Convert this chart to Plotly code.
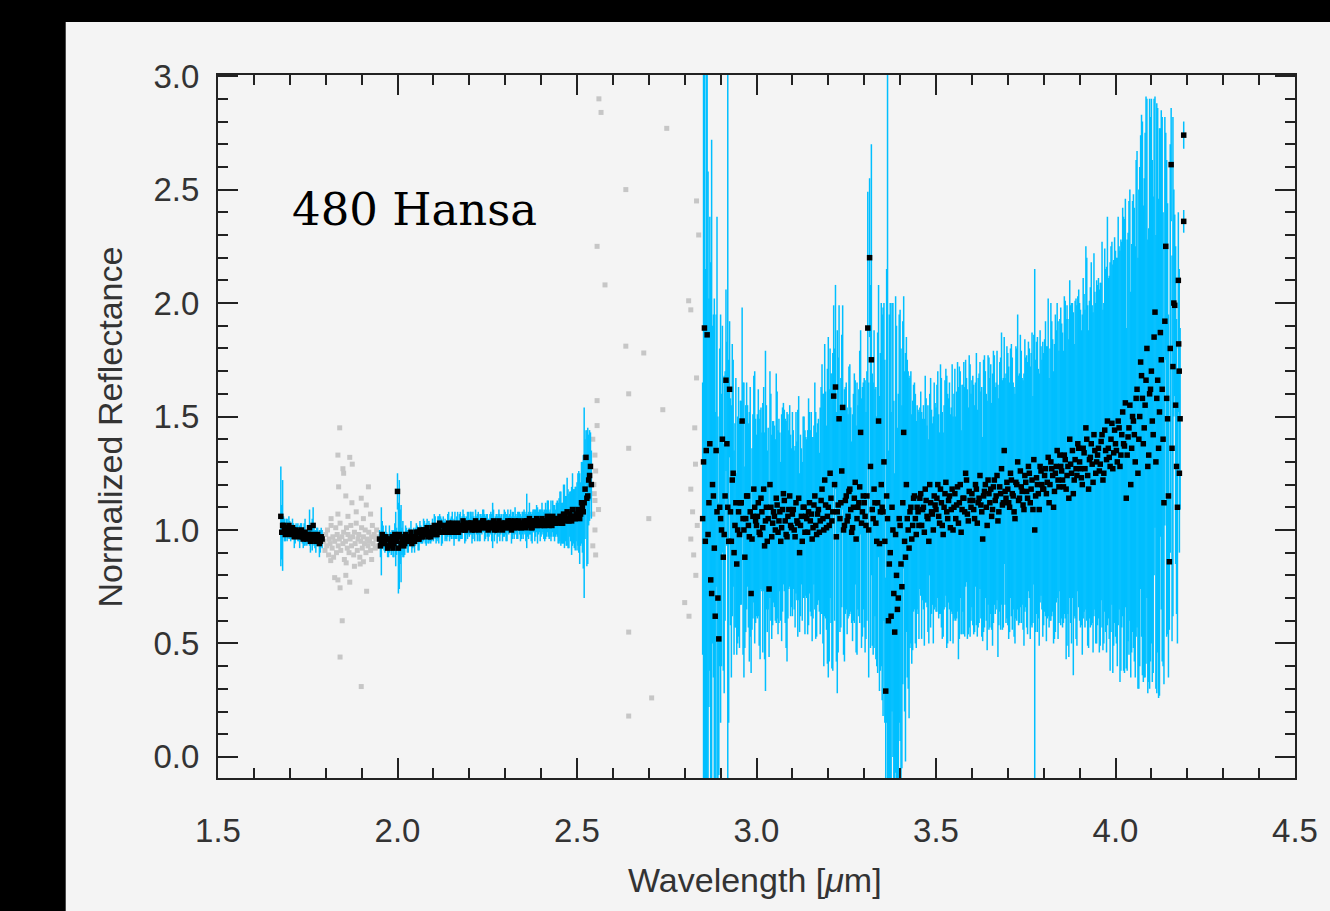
import plotly.graph_objects as go

# ---------------- data ----------------
# K-band, first segment: two interleaved channel sets
k1a_start, k1b_start, k_step = 1.675, 1.6775, 0.005
k1a_refl = [1.06, 1.02, 1.00, 1.01, 0.99, 1.00, 0.99, 1.00, 0.98, 0.99,
            0.98, 0.99, 0.97, 0.98, 0.97, 0.98, 1.01, 0.97, 1.02, 0.96,
            0.97, 0.96, 0.95, 0.96]
k1a_err = [0.22, 0.20, 0.05, 0.04, 0.03, 0.04, 0.03, 0.03, 0.04, 0.03,
           0.03, 0.04, 0.03, 0.05, 0.03, 0.04, 0.08, 0.03, 0.08, 0.04,
           0.04, 0.03, 0.05, 0.04]
k1b_refl = [0.99, 1.02, 0.98, 1.00, 1.02, 0.98, 1.01, 0.97, 1.00, 0.99,
            0.97, 1.00, 0.96, 0.99, 0.96, 0.98, 0.95, 0.98, 0.97, 0.95,
            0.98, 0.94, 0.97]
k1b_err = [0.12, 0.04, 0.03, 0.05, 0.04, 0.03, 0.04, 0.05, 0.03, 0.04,
           0.05, 0.03, 0.04, 0.06, 0.03, 0.04, 0.05, 0.07, 0.04, 0.05,
           0.03, 0.06, 0.04]

# K-band, second segment (1.950 - 2.540 um): two interleaved channel sets
k2a_start, k2b_start = 1.950, 1.9525
k2a_refl = [0.96, 0.95, 0.97, 0.94, 0.96, 0.93, 0.95, 0.97, 0.94, 0.96,
            1.17, 0.98, 0.94, 0.96, 0.94, 0.97, 0.95, 0.96, 0.94, 0.97,
            0.97, 0.99, 0.96, 0.98, 0.97, 1.00, 0.98, 0.97, 0.99, 0.98,
            0.99, 1.01, 0.98, 1.00, 1.02, 0.99, 1.01, 1.00, 1.02, 0.99,
            1.01, 1.00, 1.02, 1.01, 0.99, 1.02, 1.01, 1.03, 1.00, 1.02,
            1.01, 1.03, 1.02, 1.00, 1.02, 1.03, 1.01, 1.02, 1.04, 1.01,
            1.02, 1.01, 1.03, 1.02, 1.00, 1.03, 1.02, 1.01, 1.03, 1.02,
            1.03, 1.01, 1.02, 1.04, 1.02, 1.01, 1.03, 1.02, 1.03, 1.01,
            1.02, 1.03, 1.04, 1.02, 1.03, 1.01, 1.04, 1.03, 1.02, 1.04,
            1.03, 1.04, 1.02, 1.03, 1.05, 1.03, 1.02, 1.04, 1.03, 1.05,
            1.04, 1.05, 1.03, 1.06, 1.04, 1.05, 1.07, 1.04, 1.06, 1.05,
            1.06, 1.08, 1.07, 1.10, 1.12, 1.32, 1.15, 1.24, 1.20]
k2a_err = [0.04, 0.15, 0.05, 0.04, 0.03, 0.05, 0.04, 0.03, 0.06, 0.12,
           0.08, 0.24, 0.17, 0.08, 0.05, 0.04, 0.05, 0.03, 0.04, 0.04,
           0.04, 0.03, 0.05, 0.04, 0.03, 0.04, 0.05, 0.03, 0.04, 0.03,
           0.04, 0.05, 0.03, 0.06, 0.04, 0.05, 0.03, 0.04, 0.05, 0.04,
           0.05, 0.04, 0.06, 0.05, 0.04, 0.06, 0.05, 0.04, 0.05, 0.06,
           0.04, 0.05, 0.06, 0.05, 0.04, 0.05, 0.06, 0.04, 0.05, 0.05,
           0.05, 0.04, 0.05, 0.10, 0.05, 0.04, 0.05, 0.06, 0.04, 0.05,
           0.05, 0.06, 0.04, 0.05, 0.06, 0.05, 0.04, 0.06, 0.05, 0.05,
           0.06, 0.05, 0.12, 0.06, 0.05, 0.07, 0.05, 0.06, 0.08, 0.05,
           0.06, 0.05, 0.07, 0.06, 0.08, 0.06, 0.05, 0.07, 0.06, 0.08,
           0.10, 0.12, 0.09, 0.14, 0.11, 0.13, 0.10, 0.15, 0.12, 0.14,
           0.15, 0.18, 0.14, 0.20, 0.42, 0.12, 0.30, 0.20, 0.15]
k2b_refl = [0.93, 0.98, 0.95, 0.97, 0.92, 0.96, 0.94, 0.92, 0.98, 0.95,
            0.92, 0.97, 0.95, 0.93, 0.98, 0.95, 0.97, 0.99, 0.96, 0.95,
            0.99, 0.96, 1.00, 0.97, 1.00, 0.98, 1.01, 0.99, 0.97, 1.01,
            1.02, 0.98, 1.01, 1.03, 0.99, 1.02, 1.00, 0.99, 1.03, 1.01,
            1.03, 0.99, 1.00, 1.03, 1.01, 1.00, 1.04, 1.00, 1.02, 1.03,
            1.03, 1.00, 1.02, 1.04, 1.01, 1.00, 1.03, 1.04, 1.01, 1.03,
            1.00, 1.03, 1.01, 1.04, 1.02, 1.00, 1.04, 1.02, 1.00, 1.03,
            1.01, 1.04, 1.03, 1.00, 1.03, 1.04, 1.01, 1.04, 1.01, 1.03,
            1.04, 1.01, 1.02, 1.05, 1.01, 1.04, 1.02, 1.05, 1.03, 1.02,
            1.05, 1.02, 1.04, 1.06, 1.02, 1.04, 1.06, 1.03, 1.05, 1.03,
            1.06, 1.03, 1.07, 1.05, 1.08, 1.04, 1.06, 1.09, 1.05, 1.07,
            1.09, 1.05, 1.12, 1.08, 1.18, 1.14, 1.22, 1.28]
k2b_err = [0.05, 0.06, 0.04, 0.05, 0.04, 0.06, 0.05, 0.04, 0.05, 0.06,
           0.20, 0.12, 0.06, 0.05, 0.04, 0.05, 0.04, 0.05, 0.04, 0.05,
           0.04, 0.05, 0.04, 0.03, 0.05, 0.04, 0.04, 0.05, 0.03, 0.04,
           0.05, 0.04, 0.05, 0.04, 0.06, 0.04, 0.05, 0.04, 0.05, 0.04,
           0.05, 0.06, 0.04, 0.05, 0.06, 0.04, 0.05, 0.06, 0.04, 0.05,
           0.05, 0.06, 0.04, 0.05, 0.06, 0.05, 0.04, 0.05, 0.06, 0.04,
           0.05, 0.04, 0.06, 0.05, 0.04, 0.06, 0.05, 0.04, 0.05, 0.06,
           0.06, 0.05, 0.04, 0.06, 0.05, 0.06, 0.05, 0.04, 0.06, 0.05,
           0.05, 0.06, 0.05, 0.07, 0.06, 0.05, 0.07, 0.06, 0.05, 0.07,
           0.07, 0.06, 0.08, 0.07, 0.06, 0.09, 0.07, 0.08, 0.07, 0.09,
           0.11, 0.09, 0.13, 0.10, 0.15, 0.12, 0.11, 0.16, 0.13, 0.12,
           0.16, 0.20, 0.18, 0.25, 0.22, 0.30, 0.20, 0.15]

# L-band (2.850 - 4.180 um): two interleaved channel sets
la_start, lb_start, l_step = 2.850, 2.8525, 0.005
la_refl = [1.05, 1.89, 1.35, 0.98, 1.38, 0.72, 1.15, 0.62, 1.08, 0.52,
           1.05, 1.40, 0.98, 1.66, 1.10, 1.62, 0.95, 1.25, 1.02, 0.85,
           1.08, 1.12, 1.48, 1.00, 1.05, 1.15, 0.97, 0.72, 1.06, 1.10,
           1.02, 1.12, 0.98, 1.08, 1.18, 1.04, 0.95, 0.74, 1.10, 1.03,
           1.06, 1.14, 0.99, 1.08, 1.01, 1.16, 1.04, 0.97, 1.09, 1.02,
           1.07, 1.00, 1.12, 1.03, 0.90, 1.06, 1.10, 0.99, 1.05, 1.08,
           1.04, 0.96, 1.11, 1.02, 1.07, 0.99, 1.13, 1.05, 1.22, 1.01,
           1.10, 1.25, 1.04, 1.59, 1.63, 1.08, 1.49, 1.12, 1.54, 1.02,
           1.15, 1.06, 1.18, 0.99, 1.10, 1.21, 1.05, 1.12, 1.43, 1.08,
           1.12, 1.02, 1.89, 2.20, 1.75, 1.05, 1.12, 0.95, 1.48, 1.08,
           1.10, 1.30, 0.29, 1.05, 0.85, 0.62, 1.00, 0.55, 0.80, 0.70,
           1.02, 0.75, 1.43, 0.88, 1.05, 0.92, 1.10, 1.02, 1.15, 0.98,
           1.08, 1.14, 1.02, 1.10, 1.18, 1.06, 0.95, 1.12, 1.07, 1.15,
           1.09, 1.20, 1.03, 1.12, 0.98, 1.16, 1.08, 1.13, 1.01, 1.18,
           1.10, 1.05, 1.19, 1.12, 0.99, 1.14, 1.08, 1.22, 1.04, 1.13,
           1.16, 1.09, 1.20, 1.03, 1.14, 1.11, 0.96, 1.17, 1.10, 1.22,
           1.12, 1.06, 1.19, 1.13, 1.24, 1.08, 1.16, 1.11, 1.35, 1.14,
           1.18, 1.10, 1.22, 1.15, 1.05, 1.20, 1.13, 1.26, 1.17, 1.09,
           1.21, 1.14, 1.25, 1.18, 1.09, 1.00, 1.23, 1.16, 1.28, 1.20,
           1.18, 1.27, 1.21, 1.12, 1.30, 1.24, 1.17, 1.28, 1.22, 1.33,
           1.26, 1.19, 1.31, 1.24, 1.14, 1.29, 1.35, 1.22, 1.27, 1.38,
           1.30, 1.23, 1.36, 1.27, 1.40, 1.18, 1.32, 1.29, 1.42, 1.25,
           1.33, 1.26, 1.39, 1.22, 1.44, 1.31, 1.36, 1.28, 1.47, 1.34,
           1.38, 1.30, 1.45, 1.33, 1.52, 1.37, 1.14, 1.41, 1.55, 1.36,
           1.48, 1.30, 1.62, 1.40, 1.74, 1.58, 1.45, 1.66, 1.28, 1.60,
           1.70, 1.42, 1.96, 1.58, 1.36, 1.87, 1.62, 1.12, 2.25, 1.49,
           0.86, 2.61, 1.72, 1.99, 1.28, 2.10, 1.49]
la_err = [0.60, 2.50, 2.40, 1.60, 1.00, 2.00, 0.80, 0.90, 1.30, 0.60,
          0.90, 0.50, 0.70, 0.40, 2.60, 0.30, 0.60, 0.50, 0.45, 0.40,
          0.55, 0.45, 0.50, 0.65, 0.50, 0.40, 0.55, 0.35, 0.45, 0.60,
          0.40, 0.50, 0.55, 0.35, 0.45, 0.75, 0.40, 0.30, 0.50, 0.45,
          0.40, 0.55, 0.45, 0.35, 0.50, 0.40, 0.45, 0.55, 0.35, 0.40,
          0.45, 0.35, 0.40, 0.50, 0.35, 0.30, 0.40, 0.45, 0.35, 0.50,
          0.40, 0.45, 0.35, 0.50, 0.40, 0.35, 0.50, 0.55, 0.60, 0.45,
          0.75, 0.55, 0.65, 0.40, 0.45, 0.80, 0.50, 0.55, 0.45, 0.60,
          0.50, 0.45, 0.55, 0.40, 0.50, 0.45, 0.60, 0.50, 0.45, 0.55,
          0.55, 0.50, 0.60, 0.35, 0.95, 0.60, 0.50, 0.55, 0.60, 0.70,
          0.85, 0.70, 0.50, 2.40, 1.10, 0.90, 1.00, 0.70, 1.10, 0.90,
          0.95, 0.80, 0.60, 0.90, 0.70, 0.75, 0.60, 0.55, 0.50, 0.50,
          0.45, 0.40, 0.50, 0.45, 0.50, 0.40, 0.45, 0.55, 0.40, 0.50,
          0.45, 0.50, 0.40, 0.55, 0.45, 0.50, 0.60, 0.45, 0.50, 0.55,
          0.50, 0.45, 0.55, 0.60, 0.45, 0.50, 0.55, 0.45, 0.50, 0.60,
          0.50, 0.55, 0.45, 0.50, 0.55, 0.50, 0.45, 0.60, 0.50, 0.55,
          0.55, 0.50, 0.60, 0.50, 0.55, 0.50, 0.60, 0.55, 0.50, 0.55,
          0.60, 0.55, 0.60, 0.50, 0.55, 0.60, 0.55, 0.60, 0.50, 0.60,
          0.55, 0.60, 0.55, 0.60, 0.50, 1.15, 0.60, 0.55, 0.60, 0.55,
          0.60, 0.65, 0.60, 0.55, 0.70, 0.60, 0.65, 0.60, 0.70, 0.60,
          0.65, 0.60, 0.70, 0.75, 0.70, 0.70, 0.65, 0.60, 0.75, 0.65,
          0.70, 0.65, 0.75, 0.70, 0.80, 0.70, 0.75, 0.70, 0.80, 0.75,
          0.75, 0.80, 0.70, 0.75, 0.80, 0.85, 0.75, 0.90, 0.80, 0.85,
          0.85, 0.90, 0.80, 0.95, 0.90, 1.00, 0.75, 0.90, 0.95, 0.90,
          1.00, 0.95, 1.05, 1.10, 1.00, 1.22, 1.10, 1.25, 1.00, 1.30,
          1.20, 1.05, 0.95, 1.30, 1.10, 0.90, 1.20, 0.80, 0.50, 0.95,
          0.30, 0.25, 1.10, 0.40, 0.65, 0.30, 0.40]
lb_refl = [1.30, 0.95, 1.86, 1.12, 0.78, 1.20, 0.92, 1.35, 0.70, 1.10,
           1.00, 0.88, 1.15, 1.38, 0.95, 1.08, 1.22, 0.90, 1.12, 1.00,
           0.98, 1.12, 1.05, 0.88, 1.15, 1.02, 1.08, 0.96, 1.18, 1.04,
           1.06, 0.99, 1.14, 1.01, 0.93, 1.10, 1.05, 1.20, 0.97, 1.08,
           1.00, 1.11, 1.04, 0.95, 1.09, 1.13, 0.98, 1.06, 1.15, 1.01,
           1.09, 0.97, 1.04, 1.14, 1.02, 0.95, 1.10, 1.06, 0.99, 1.12,
           1.07, 1.01, 1.15, 0.98, 1.09, 1.04, 1.18, 1.00, 1.11, 1.06,
           1.02, 1.14, 1.08, 1.20, 0.97, 1.11, 1.05, 1.26, 1.00, 1.13,
           1.04, 1.17, 1.09, 1.01, 1.14, 0.96, 1.10, 1.19, 1.03, 1.15,
           1.06, 1.15, 1.00, 1.28, 1.09, 1.18, 1.03, 1.12, 0.94, 1.20,
           1.08, 0.95, 1.15, 0.60, 0.90, 1.10, 0.72, 0.98, 0.65, 1.05,
           0.85, 1.12, 0.95, 1.20, 1.00, 1.08, 0.96, 1.14, 1.05, 1.10,
           1.02, 1.16, 1.09, 0.99, 1.13, 1.05, 1.20, 1.08, 1.00, 1.11,
           1.14, 1.06, 1.18, 1.02, 1.10, 1.21, 1.05, 1.15, 1.09, 1.00,
           1.16, 1.11, 1.03, 1.20, 1.09, 1.14, 1.25, 1.07, 1.17, 1.10,
           1.13, 1.05, 1.18, 1.12, 1.24, 1.08, 1.15, 1.20, 1.02, 1.16,
           1.18, 1.09, 1.22, 1.15, 1.04, 1.19, 1.27, 1.12, 1.17, 1.21,
           1.12, 1.25, 1.16, 1.08, 1.21, 1.30, 1.14, 1.19, 1.11, 1.24,
           1.17, 1.28, 1.12, 1.22, 1.31, 1.15, 1.20, 1.09, 1.26, 1.18,
           1.24, 1.16, 1.32, 1.20, 1.27, 1.10, 1.25, 1.35, 1.19, 1.28,
           1.22, 1.33, 1.18, 1.28, 1.40, 1.25, 1.16, 1.31, 1.24, 1.36,
           1.27, 1.20, 1.34, 1.45, 1.24, 1.31, 1.38, 1.21, 1.35, 1.30,
           1.36, 1.29, 1.42, 1.25, 1.35, 1.48, 1.32, 1.40, 1.27, 1.44,
           1.35, 1.48, 1.28, 1.42, 1.38, 1.56, 1.33, 1.45, 1.20, 1.50,
           1.42, 1.58, 1.25, 1.50, 1.68, 1.38, 1.55, 1.80, 1.33, 1.62,
           1.48, 1.85, 1.30, 1.66, 1.52, 1.75, 1.40, 1.92, 1.58, 1.15,
           1.80, 1.36, 2.00, 1.55, 1.10, 1.70]
lb_err = [1.80, 1.20, 2.30, 0.90, 1.40, 0.70, 1.10, 0.60, 0.80, 0.70,
          0.60, 0.50, 0.55, 0.45, 0.80, 0.50, 0.60, 0.45, 0.55, 0.50,
          0.50, 0.45, 0.60, 0.40, 0.50, 0.45, 0.55, 0.40, 0.50, 0.45,
          0.45, 0.50, 0.40, 0.55, 0.50, 0.45, 0.40, 0.50, 0.45, 0.40,
          0.40, 0.50, 0.45, 0.35, 0.45, 0.40, 0.50, 0.45, 0.40, 0.35,
          0.35, 0.40, 0.35, 0.45, 0.40, 0.35, 0.40, 0.35, 0.45, 0.40,
          0.45, 0.40, 0.50, 0.45, 0.40, 0.50, 0.55, 0.60, 0.50, 0.65,
          0.60, 0.55, 0.70, 0.60, 0.55, 0.65, 0.50, 0.60, 0.55, 0.50,
          0.50, 0.55, 0.45, 0.50, 0.55, 0.50, 0.45, 0.60, 0.55, 0.50,
          0.60, 0.55, 0.65, 0.80, 0.60, 0.70, 0.60, 0.75, 0.65, 0.80,
          0.90, 0.80, 1.00, 0.75, 1.10, 0.90, 0.85, 1.05, 0.80, 0.90,
          0.95, 0.80, 0.75, 0.65, 0.70, 0.60, 0.55, 0.50, 0.55, 0.45,
          0.50, 0.45, 0.40, 0.50, 0.45, 0.50, 0.40, 0.45, 0.50, 0.45,
          0.50, 0.45, 0.55, 0.50, 0.45, 0.50, 0.55, 0.50, 0.45, 0.50,
          0.55, 0.50, 0.60, 0.50, 0.55, 0.60, 0.50, 0.55, 0.60, 0.50,
          0.55, 0.50, 0.60, 0.55, 0.50, 0.55, 0.60, 0.50, 0.55, 0.60,
          0.55, 0.60, 0.55, 0.50, 0.60, 0.55, 0.60, 0.55, 0.50, 0.60,
          0.60, 0.55, 0.60, 0.55, 0.60, 0.65, 0.55, 0.60, 0.55, 0.60,
          0.60, 0.55, 0.60, 0.65, 0.55, 0.60, 0.65, 0.60, 0.55, 0.65,
          0.60, 0.65, 0.70, 0.60, 0.65, 0.60, 0.70, 0.65, 0.60, 0.70,
          0.65, 0.70, 0.75, 0.65, 0.70, 0.75, 0.80, 0.70, 0.75, 0.70,
          0.70, 0.75, 0.70, 0.80, 0.75, 0.70, 0.80, 0.75, 0.70, 0.80,
          0.75, 0.80, 0.85, 0.75, 0.80, 0.90, 0.80, 0.85, 0.90, 0.85,
          0.85, 0.90, 0.95, 0.85, 1.00, 0.90, 0.95, 1.00, 0.85, 0.95,
          1.00, 1.05, 0.95, 1.10, 1.15, 1.05, 1.20, 1.10, 1.00, 1.20,
          1.15, 1.05, 1.00, 1.20, 1.25, 1.10, 1.00, 0.90, 1.05, 0.80,
          0.90, 0.85, 0.50, 0.70, 0.60, 0.45]

# isolated points at the red end of the L band
end_wave = [4.176, 4.178, 4.190, 4.190]
end_refl = [1.82, 1.25, 2.74, 2.36]
end_err = [0.30, 0.35, 0.06, 0.05]

# rejected (grey) points: telluric gap 1.8-1.95 um
gap1_wave = [1.795, 1.798, 1.800, 1.803, 1.805, 1.808, 1.810, 1.812, 1.815, 1.818,
             1.820, 1.822, 1.825, 1.828, 1.830, 1.832, 1.835, 1.838, 1.840, 1.842,
             1.845, 1.848, 1.850, 1.852, 1.855, 1.858, 1.860, 1.862, 1.865, 1.868,
             1.870, 1.872, 1.875, 1.878, 1.880, 1.882, 1.885, 1.888, 1.890, 1.892,
             1.895, 1.898, 1.900, 1.902, 1.905, 1.908, 1.910, 1.912, 1.915, 1.918,
             1.920, 1.922, 1.925, 1.928, 1.930, 1.932, 1.935, 1.938, 1.940, 1.942,
             1.945, 1.948,
             1.839, 1.834, 1.867, 1.874, 1.848, 1.850, 1.836, 1.919, 1.856, 1.899,
             1.873, 1.913, 1.834, 1.814, 1.825, 1.834, 1.856, 1.867, 1.840, 1.914,
             1.846, 1.840, 1.899, 1.896, 1.857, 1.880, 1.905, 1.928, 1.862, 1.885,
             1.905, 1.925, 1.815]
gap1_refl = [0.95, 0.91, 0.98, 0.93, 1.00, 0.89, 0.96, 0.94, 1.02, 0.92,
             0.97, 0.88, 0.95, 1.01, 0.90, 0.98, 0.93, 0.96, 1.03, 0.91,
             0.97, 0.94, 0.99, 0.87, 0.95, 1.01, 0.92, 0.98, 0.90, 0.96,
             1.02, 0.93, 0.97, 0.89, 0.99, 0.94, 1.03, 0.91, 0.96, 0.98,
             0.88, 0.95, 1.01, 0.92, 0.97, 0.94, 1.00, 0.90, 0.96, 0.93,
             0.99, 0.95, 0.91, 0.97, 1.02, 0.94, 0.98, 0.92, 0.96, 1.00,
             0.93, 0.97,
             1.45, 1.33, 1.32, 1.29, 1.27, 1.25, 1.19, 1.19, 1.15, 1.14,
             1.12, 1.11, 1.07, 0.865, 0.79, 0.78, 0.80, 0.77, 0.745, 0.73,
             0.60, 0.44, 0.31, 0.85, 0.855, 0.84, 0.86, 0.87, 1.06, 1.08,
             1.05, 1.07, 1.05]

# rejected (grey) points: 2.55-2.85 um
gap2_wave = [2.544, 2.550, 2.552, 2.547, 2.550, 2.544, 2.550, 2.544, 2.552, 2.561,
             2.567, 2.636, 2.556, 2.578, 2.636, 2.686, 2.750, 2.833, 2.839, 2.644,
             2.556, 2.739, 2.644, 2.811, 2.817, 2.833, 2.700, 2.830, 2.817, 2.825,
             2.644, 2.800, 2.708, 2.644, 2.817, 2.828, 2.822, 2.835, 2.831, 2.812,
             2.556, 2.560, 2.548]
gap2_refl = [1.40, 1.33, 1.26, 1.20, 1.13, 1.07, 1.00, 0.93, 0.89, 2.90,
             2.84, 2.50, 2.25, 2.08, 1.81, 1.78, 2.77, 2.45, 2.30, 1.60,
             1.57, 1.53, 1.36, 2.01, 1.97, 1.67, 1.05, 1.29, 1.18, 0.89,
             0.55, 0.68, 0.26, 0.18, 0.96, 1.45, 1.08, 1.02, 0.80, 0.62,
             1.46, 1.09, 1.16]

x_ticks = [1.5, 2.0, 2.5, 3.0, 3.5, 4.0, 4.5]
y_ticks = [0.0, 0.5, 1.0, 1.5, 2.0, 2.5, 3.0]


def grid(start, step, n):
    return [round(start + step * i, 4) for i in range(n)]


segments = [
    (grid(k1a_start, k_step, len(k1a_refl)), k1a_refl, k1a_err),
    (grid(k1b_start, k_step, len(k1b_refl)), k1b_refl, k1b_err),
    (grid(k2a_start, k_step, len(k2a_refl)), k2a_refl, k2a_err),
    (grid(k2b_start, k_step, len(k2b_refl)), k2b_refl, k2b_err),
    (grid(la_start, l_step, len(la_refl)), la_refl, la_err),
    (grid(lb_start, l_step, len(lb_refl)), lb_refl, lb_err),
    (end_wave, end_refl, end_err),
]

# ---------------- figure ----------------
BLUE = "#00bfff"
GREY = "#c6c6c6"
PANEL = "#f4f4f4"
FONT = "Liberation Sans, Arial, sans-serif"

fig = go.Figure()

fig.add_trace(go.Scatter(
    x=gap1_wave + gap2_wave, y=gap1_refl + gap2_refl, mode="markers",
    marker=dict(symbol="square", size=5, color=GREY, line=dict(width=0)),
    hoverinfo="skip", showlegend=False))

for wv, rf, er in segments:
    fig.add_trace(go.Scatter(
        x=wv, y=rf, mode="markers",
        marker=dict(size=2, color=BLUE, opacity=0),
        error_y=dict(type="data", array=er, symmetric=True, color=BLUE,
                     thickness=1.5, width=0),
        hoverinfo="skip", showlegend=False))

for wv, rf, er in segments:
    fig.add_trace(go.Scatter(
        x=wv, y=rf, mode="markers",
        marker=dict(symbol="square", size=5.5, color="black", line=dict(width=0)),
        showlegend=False))

L, R, T, B = 218, 30, 75, 133
W, H = 1330, 911
pw, ph = W - L - R, H - T - B

axis_common = dict(
    showgrid=False, zeroline=False, showline=True, linecolor="#222", linewidth=2,
    mirror="ticks", ticks="inside", ticklen=20, tickwidth=1.5, tickcolor="#222",
    tickfont=dict(family=FONT, size=33, color="#333"),
)

fig.update_layout(
    width=W, height=H,
    margin=dict(l=L, r=R, t=T, b=B),
    paper_bgcolor="black", plot_bgcolor=PANEL,
    xaxis=dict(range=[1.5, 4.5], tickvals=x_ticks, ticktext=[f"{v:.1f}" for v in x_ticks],
               minor=dict(dtick=0.1, tick0=1.5, ticks="inside", ticklen=10, tickcolor="#222"),
               ticklabelstandoff=22, **axis_common),
    yaxis=dict(range=[-0.093, 3.005], tickvals=y_ticks, ticktext=[f"{v:.1f}" for v in y_ticks],
               minor=dict(dtick=0.1, tick0=0, ticks="inside", ticklen=10, tickcolor="#222"),
               ticklabelstandoff=10, **axis_common),
    shapes=[dict(type="rect", xref="paper", yref="paper",
                 x0=(65 - L) / pw, x1=(W - L) / pw + 0.01,
                 y0=-(B + 5) / ph, y1=(ph + T - 22) / ph,
                 fillcolor=PANEL, line=dict(width=0), layer="below")],
    annotations=[
        dict(text="480 Hansa", xref="paper", yref="paper",
             x=(290 - L) / pw, y=(778 - 210) / ph, xanchor="left", yanchor="middle",
             showarrow=False, font=dict(family="DejaVu Serif, serif", size=45, color="black")),
        dict(text="Normalized Reflectance", xref="paper", yref="paper",
             x=(110 - L) / pw, y=(778 - 427) / ph, textangle=-90, xanchor="center", yanchor="middle",
             showarrow=False, font=dict(family=FONT, size=34, color="#333")),
        dict(text="Wavelength [<i>μ</i>m]", xref="paper", yref="paper",
             x=(757 - L) / pw, y=(778 - 880) / ph, xanchor="center", yanchor="middle",
             showarrow=False, font=dict(family=FONT, size=34, color="#333")),
    ],
)

fig.write_html("out.html")
